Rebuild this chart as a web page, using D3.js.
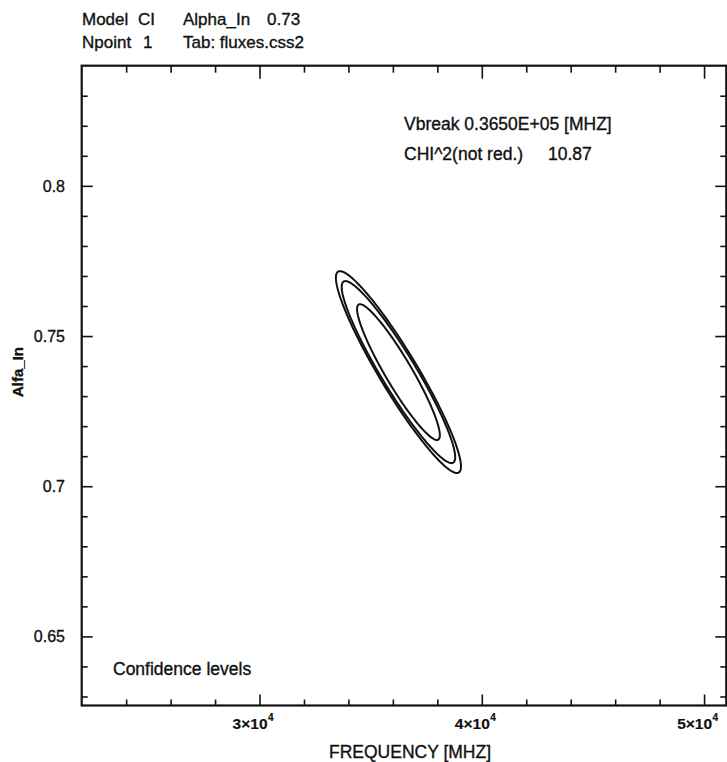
<!DOCTYPE html>
<html>
<head>
<meta charset="utf-8">
<script src="https://cdn.jsdelivr.net/npm/d3@7"></script>
<style>
  body { margin: 0; background: #fff; }
  text { font-family: "Liberation Sans", Arial, Helvetica, sans-serif; fill: #111; stroke: #111; stroke-width: 0.35px; }
</style>
</head>
<body>
<svg id="chart" width="727" height="762"></svg>
<script>
// Axis extents (frequency in MHz, spectral index)
const freqDomain = [22000, 51000];
const alphaDomain = [0.627, 0.84];

// Tick positions and labels
const freqMajorTicks = [30000, 40000, 50000];
const freqTickMantissa = ["3", "4", "5"];
const freqTickExponent = "4";
const freqMinorTicks = [24000, 26000, 28000, 32000, 34000, 36000, 38000, 42000, 44000, 46000, 48000];
const alphaMajorTicks = [0.65, 0.70, 0.75, 0.80];
const alphaTickLabels = ["0.65", "0.7", "0.75", "0.8"];
const alphaMinorTicks = [0.63, 0.64, 0.66, 0.67, 0.68, 0.69, 0.71, 0.72, 0.73, 0.74,
                         0.76, 0.77, 0.78, 0.79, 0.81, 0.82, 0.83];

// Confidence contours (outer, middle, inner): centre, topmost point, half-width along frequency
const contourCenterFreq = [36250, 36250, 36250];
const contourCenterAlpha = [0.738, 0.738, 0.738];
const contourTopFreq = [33620, 33865, 34520];
const contourTopAlpha = [0.7716, 0.7683, 0.7606];
const contourHalfWidthFreq = [1000, 910, 690];

// Header and annotation texts
const headerLine1 = [["Model", 82], ["CI", 138], ["Alpha_In", 183], ["0.73", 267]];
const headerLine2 = [["Npoint", 82], ["1", 143], ["Tab: fluxes.css2", 183]];
const fitNotes = [["Vbreak 0.3650E+05 [MHZ]", 404, 130], ["CHI^2(not red.)", 404, 160], ["10.87", 548, 160]];

const svg = d3.select("#chart");
const plotLeft = 81.7, plotRight = 726.3, plotTop = 65.7, plotBottom = 705.5;

const x = d3.scaleLinear().domain(freqDomain).range([plotLeft, plotRight]);
const y = d3.scaleLinear().domain(alphaDomain).range([plotBottom, plotTop]);

const majorLen = 11, minorLen = 6;

function drawAxis(axisFn, scale, ticks, len, transform) {
  const g = svg.append("g")
    .attr("transform", transform)
    .call(axisFn(scale).tickValues(ticks).tickSize(-len).tickFormat(""));
  g.select(".domain").remove();
  g.selectAll(".tick line").attr("stroke", "#111").attr("stroke-width", 1.6);
  return g;
}

// Ticks point inward on all four sides
drawAxis(d3.axisBottom, x, freqMajorTicks, majorLen, `translate(0,${plotBottom})`);
drawAxis(d3.axisBottom, x, freqMinorTicks, minorLen, `translate(0,${plotBottom})`);
drawAxis(d3.axisTop, x, freqMajorTicks, majorLen + 2, `translate(0,${plotTop})`);
drawAxis(d3.axisTop, x, freqMinorTicks, minorLen + 1, `translate(0,${plotTop})`);
drawAxis(d3.axisLeft, y, alphaMajorTicks, majorLen, `translate(${plotLeft},0)`);
drawAxis(d3.axisLeft, y, alphaMinorTicks, minorLen, `translate(${plotLeft},0)`);
drawAxis(d3.axisRight, y, alphaMajorTicks, majorLen, `translate(${plotRight},0)`);
drawAxis(d3.axisRight, y, alphaMinorTicks, minorLen, `translate(${plotRight},0)`);

// Plot frame
svg.append("rect")
  .attr("x", plotLeft).attr("y", plotTop)
  .attr("width", plotRight - plotLeft).attr("height", plotBottom - plotTop)
  .attr("fill", "none").attr("stroke", "#111").attr("stroke-width", 2.2);

// Y tick labels
svg.append("g").selectAll("text")
  .data(alphaMajorTicks)
  .join("text")
  .attr("x", 65)
  .attr("y", d => y(d))
  .attr("dy", "0.36em")
  .attr("text-anchor", "end")
  .style("font-size", "16px")
  .text((d, i) => alphaTickLabels[i]);

// X tick labels: mantissa times ten, with the exponent raised to its right
const xLabels = svg.append("g");
xLabels.selectAll("text.mant")
  .data(freqMajorTicks)
  .join("text")
  .attr("class", "mant")
  .attr("x", d => x(d) + 8)
  .attr("y", 729)
  .attr("text-anchor", "end")
  .style("font-size", "15.5px")
  .style("font-weight", "bold")
  .style("stroke-width", "0.2px")
  .text((d, i) => freqTickMantissa[i] + "\u00d710");
xLabels.selectAll("text.expo")
  .data(freqMajorTicks)
  .join("text")
  .attr("class", "expo")
  .attr("x", d => x(d) + 8.5)
  .attr("y", 721)
  .style("font-size", "10px")
  .style("font-weight", "bold")
  .style("stroke-width", "0.2px")
  .text(freqTickExponent);

// Axis titles
svg.append("text")
  .attr("x", 410).attr("y", 758)
  .attr("text-anchor", "middle")
  .style("font-size", "17.5px")
  .text("FREQUENCY [MHZ]");

svg.append("text")
  .attr("transform", "translate(23,372) rotate(-90)")
  .attr("text-anchor", "middle")
  .style("font-size", "15px")
  .attr("font-weight", "bold")
  .text("Alfa_In");

// Header
svg.append("g").selectAll("text").data(headerLine1).join("text")
  .attr("x", d => d[1]).attr("y", 25).style("font-size", "17px").text(d => d[0]);
svg.append("g").selectAll("text").data(headerLine2).join("text")
  .attr("x", d => d[1]).attr("y", 48).style("font-size", "17px").text(d => d[0]);

// Fit results
svg.append("g").selectAll("text").data(fitNotes).join("text")
  .attr("x", d => d[1]).attr("y", d => d[2]).style("font-size", "17.5px").text(d => d[0]);

svg.append("text")
  .attr("x", 113).attr("y", 675)
  .style("font-size", "17.5px")
  .text("Confidence levels");

// Confidence contours: ellipses built from centre, topmost point and horizontal half-width
const angles = d3.range(0, 360, 2).map(a => a * Math.PI / 180);
const contourLine = d3.line()
  .x(p => x(p[0]))
  .y(p => y(p[1]))
  .curve(d3.curveLinearClosed);

const contours = contourCenterFreq.map((cf, i) => {
  const ca = contourCenterAlpha[i];
  const af = contourTopFreq[i] - cf;
  const aa = contourTopAlpha[i] - ca;
  const hw = contourHalfWidthFreq[i];
  return angles.map(t => [cf + af * Math.cos(t) + hw * Math.sin(t), ca + aa * Math.cos(t)]);
});

svg.append("g").selectAll("path")
  .data(contours)
  .join("path")
  .attr("d", contourLine)
  .attr("fill", "none")
  .attr("stroke", "#111")
  .attr("stroke-width", 2);
</script>
</body>
</html>
